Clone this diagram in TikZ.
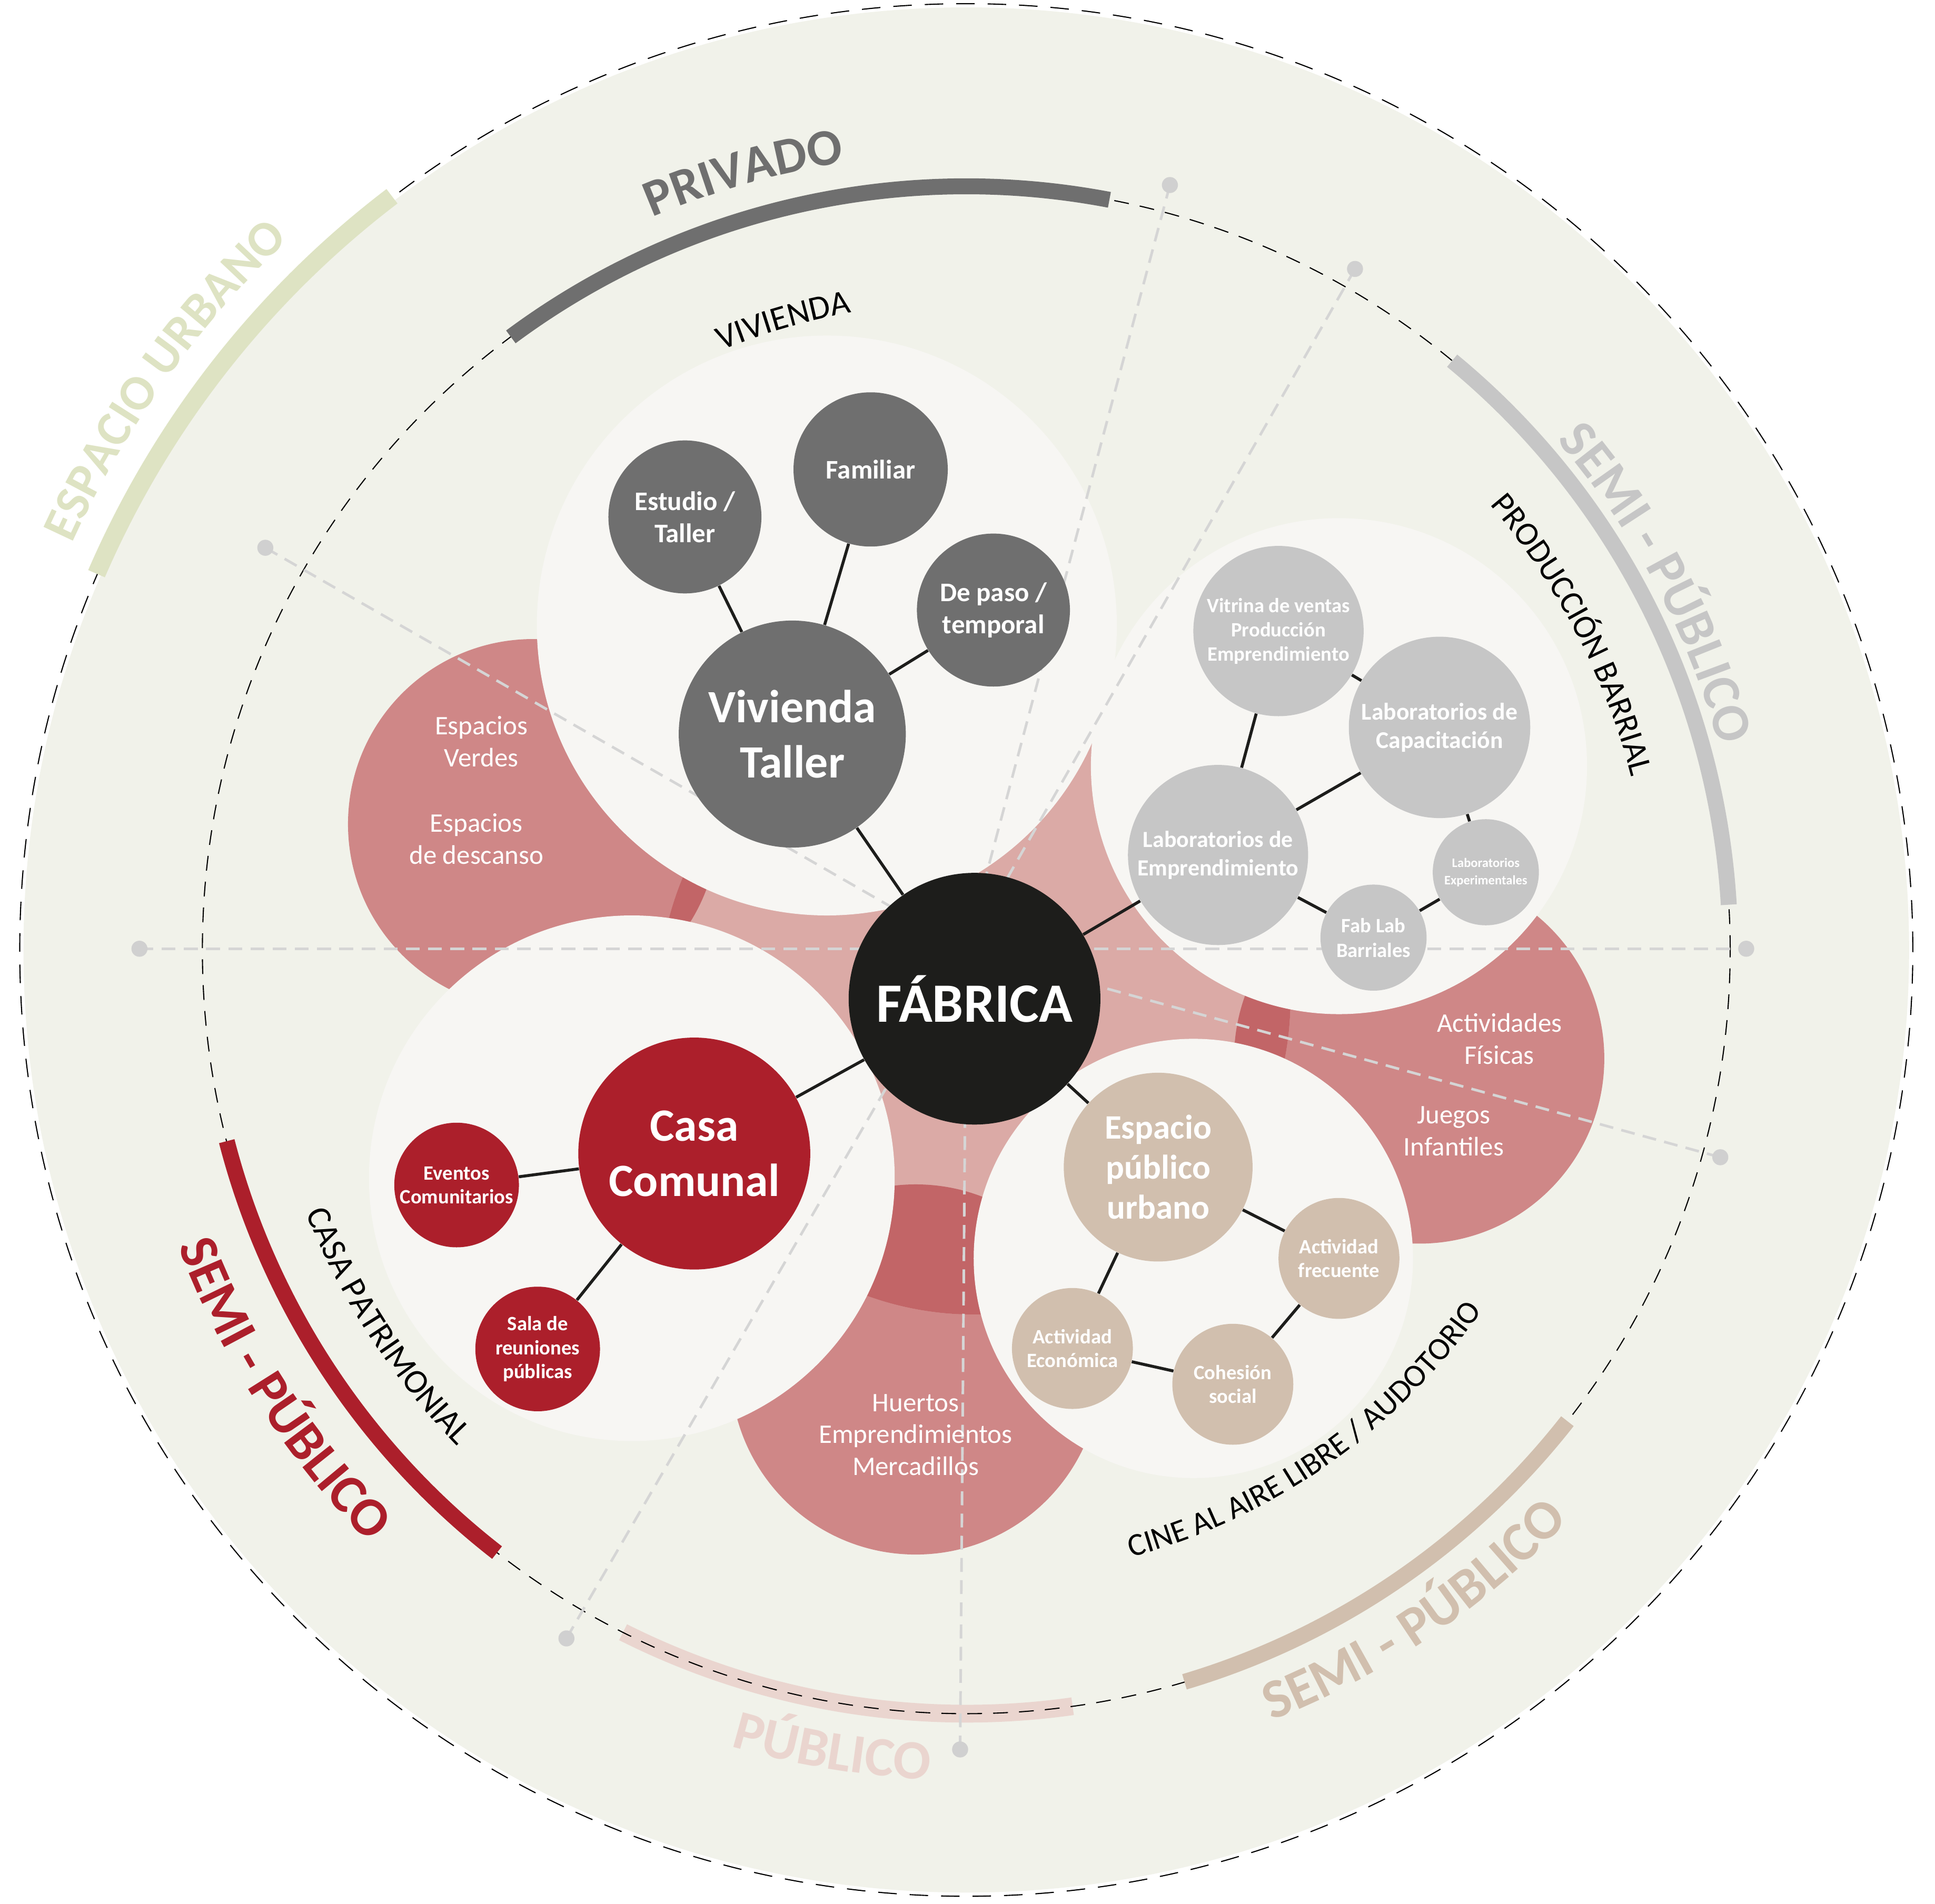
\documentclass[tikz,border=0pt]{standalone}
\usepackage{fontspec}
\setmainfont{Carlito}
\usepackage{tikz}
\usetikzlibrary{calc,decorations.text}

\definecolor{bgGreen}{HTML}{F1F2EA}
\definecolor{wCirc}{HTML}{F7F6F3}
\definecolor{cDark}{HTML}{6F6F6F}
\definecolor{cLight}{HTML}{C6C6C6}
\definecolor{cRed}{HTML}{AC1F2B}
\definecolor{cTan}{HTML}{D1BFAE}
\definecolor{cBlack}{HTML}{1D1D1B}
\definecolor{cRose}{HTML}{CF8787}
\definecolor{cRoseL}{HTML}{DBAAA6}
\definecolor{cRoseD}{HTML}{C26567}
\definecolor{cUrb}{HTML}{DEE3C3}
\definecolor{cPub}{HTML}{EAD5CF}
\definecolor{cRay}{HTML}{D5D5D5}
\definecolor{cDot}{HTML}{D0D0D0}

\tikzset{
  nd/.style={circle, inner sep=0pt, align=center, text=white},
  sz/.style={minimum size=#1*0.04688cm},
  ray/.style={cRay, line width=1.4pt, dash pattern=on 7.5pt off 4.5pt},
  link/.style={cBlack, line width=1.6pt},
  roselbl/.style={text=white, align=center, font=\fontsize{14.5}{17.3}\selectfont},
}
% radio, angulo inicial, angulo final, color, fuente, texto
\newcommand{\arclabel}[6]{%
  \path[decorate, decoration={text along path, text align=center, text color=#4,
    text={|#5|#6}}] ($(O)+(#2:#1)$) arc[start angle=#2, end angle=#3, radius=#1];}
\newcommand{\bandarc}[4]{%
  \draw[#4] ($(O)+(#2:#1)$) arc[start angle=#2, end angle=#3, radius=#1];}

\begin{document}
\begin{tikzpicture}[x=0.02344cm, y=0.02344cm]
\useasboundingbox (0,0) rectangle (1568,1543);
\coordinate (O) at (783,773);
\coordinate (F) at (789.7,733.5);

% fondo y circulos
\fill[bgGreen] (O) circle[radius=764];
\draw[dash pattern=on 10pt off 7pt, line width=0.6pt] (O) circle[radius=767];
\bandarc{619}{243.3}{278}{cPub, line width=9.6pt}
\draw[dash pattern=on 8pt off 6pt, line width=0.6pt] (O) circle[radius=619];

\bandarc{768}{156.6}{127.3}{cUrb, line width=9.8pt}
\bandarc{619}{126.6}{79.2}{cDark, line width=8.6pt}
\bandarc{619}{50.5}{3.4}{cLight, line width=8.6pt}
\bandarc{619}{194.5}{232.1}{cRed, line width=8.6pt}
\bandarc{619}{286.6}{321.9}{cTan, line width=8.6pt}

% manchas rosadas
\coordinate (roseL) at (432,875);
\coordinate (roseR) at (1150,685);
\coordinate (roseB) at (742,433);
\fill[cRose] (roseL) circle[radius=150] (roseR) circle[radius=150] (roseB) circle[radius=150];
\fill[cRoseL] (F) circle[radius=256];
\begin{scope}
  \clip (F) circle[radius=256];
  \fill[cRoseD] (roseL) circle[radius=150] (roseR) circle[radius=150] (roseB) circle[radius=150];
\end{scope}

\fill[wCirc] (670,1036) circle[radius=235];
\fill[wCirc] (1085,922) circle[radius=201];
\fill[wCirc] (512,588) circle[radius=213];
\fill[wCirc] (967,523) circle[radius=178];

% radios
\coordinate (d1) at (948,1393);
\coordinate (d2) at (1098,1325);
\coordinate (d3) at (215,1099);
\coordinate (d4) at (1394,605);
\coordinate (d5) at (459,215);
\coordinate (d6) at (778,125);
\coordinate (d7) at (113,774);
\coordinate (d8) at (1415,774);
\foreach \d in {d1,d2,d3,d4,d5,d6}
  \draw[ray] (\d) -- (O);
\draw[ray] (d7) -- (d8);
\foreach \d in {d1,d2,d3,d4,d5,d6,d7,d8}
  \fill[cDot] (\d) circle[radius=6.5];

% nodos
\node[nd, fill=cBlack, sz=102, font=\bfseries\fontsize{30}{34}\selectfont] (fab) at (F) {FÁBRICA};

\node[nd, fill=cDark, sz=92, font=\bfseries\fontsize{25}{30}\selectfont] (viv) at (642,948) {Vivienda\\Taller};
\node[nd, fill=cDark, sz=62, font=\bfseries\fontsize{14.5}{17.3}\selectfont] (est) at (555,1124) {Estudio /\\Taller};
\node[nd, fill=cDark, sz=62.5, font=\bfseries\fontsize{14.5}{17.3}\selectfont] (fam) at (705.5,1162.5) {Familiar};
\node[nd, fill=cDark, sz=62, font=\bfseries\fontsize{14.5}{17.3}\selectfont] (pas) at (805,1048.5) {De paso /\\temporal};

\node[nd, fill=cLight, sz=69, font=\bfseries\fontsize{11}{13}\selectfont] (vit) at (1036,1031.5) {Vitrina de ventas\\Producción\\Emprendimiento};
\node[nd, fill=cLight, sz=73.5, font=\bfseries\fontsize{13}{15.3}\selectfont] (cap) at (1166.5,953.4) {Laboratorios de\\Capacitación};
\node[nd, fill=cLight, sz=73, font=\bfseries\fontsize{12.5}{15.3}\selectfont] (emp) at (987,850) {Laboratorios de\\Emprendimiento};
\node[nd, fill=cLight, sz=43, font=\bfseries\fontsize{7}{9.3}\selectfont] (exp) at (1204,836) {Laboratorios\\Experimentales};
\node[nd, fill=cLight, sz=43, font=\bfseries\fontsize{11}{13.3}\selectfont] (lab) at (1113,783) {Fab Lab\\Barriales};

\node[nd, fill=cRed, sz=94, font=\bfseries\fontsize{25}{30}\selectfont] (casa) at (562.6,608) {Casa\\Comunal};
\node[nd, fill=cRed, sz=50.5, font=\bfseries\fontsize{11}{12.8}\selectfont] (evt) at (370,582.5) {Eventos\\Comunitarios};
\node[nd, fill=cRed, sz=50.5, font=\bfseries\fontsize{11}{13}\selectfont] (sala) at (435.7,449.6) {Sala de\\reuniones\\públicas};

\node[nd, fill=cTan, sz=76.5, font=\bfseries\fontsize{18.5}{21.6}\selectfont] (esp) at (938.5,597) {Espacio\\público\\urbano};
\node[nd, fill=cTan, sz=49, font=\bfseries\fontsize{11}{12.8}\selectfont] (afr) at (1085,523) {Actividad\\frecuente};
\node[nd, fill=cTan, sz=49, font=\bfseries\fontsize{11}{12.8}\selectfont] (aec) at (869,450) {Actividad\\Económica};
\node[nd, fill=cTan, sz=49, font=\bfseries\fontsize{11}{12.8}\selectfont] (coh) at (999,421) {Cohesión\\social};

% conexiones
\draw[link] (fab) -- (viv) (viv) -- (est) (viv) -- (fam) (viv) -- (pas);
\draw[link] (fab) -- (emp) (emp) -- (vit) (emp) -- (cap) (emp) -- (lab)
  (vit) -- (cap) (cap) -- (exp) (lab) -- (exp);
\draw[link] (fab) -- (casa) (casa) -- (evt) (casa) -- (sala);
\draw[link] (fab) -- (esp) (esp) -- (afr) (esp) -- (aec) (aec) -- (coh) (coh) -- (afr);

% textos en manchas
\node[roselbl] (tVer) at (390,942) {Espacios\\Verdes};
\node[roselbl] (tDes) at (386,863) {Espacios\\de descanso};
\node[roselbl] (tFis) at (1215,701) {Actividades\\Físicas};
\node[roselbl] (tJue) at (1178,626) {Juegos\\Infantiles};
\node[roselbl] (tHue) at (742,380) {Huertos\\Emprendimientos\\Mercadillos};

% rotulos curvos
\arclabel{796}{184.6}{104.6}{cUrb}{\bfseries\fontsize{27}{27}\selectfont}{ESPACIO URBANO}
\arclabel{646}{146}{66}{cDark}{\bfseries\fontsize{28}{28}\selectfont}{PRIVADO}
\arclabel{632}{68}{-12}{cLight}{\bfseries\fontsize{29}{29}\selectfont}{SEMI - PÚBLICO}
\arclabel{557}{67.5}{-12.5}{black}{\fontsize{18}{18}\selectfont}{PRODUCCIÓN BARRIAL}
\arclabel{525}{146.2}{66.2}{black}{\fontsize{18.5}{18.5}\selectfont}{VIVIENDA}
\arclabel{682}{172.7}{252.7}{cRed}{\bfseries\fontsize{29.5}{29.5}\selectfont}{SEMI - PÚBLICO}
\arclabel{576}{173}{253}{black}{\fontsize{18.5}{18.5}\selectfont}{CASA PATRIMONIAL}
\arclabel{510}{265.1}{345.1}{black}{\fontsize{17.3}{17.3}\selectfont}{CINE AL AIRE LIBRE / AUDOTORIO}
\arclabel{672}{264.1}{344.1}{cTan}{\bfseries\fontsize{30}{30}\selectfont}{SEMI - PÚBLICO}
\arclabel{673}{220.5}{300.5}{cPub}{\bfseries\fontsize{30}{30}\selectfont}{PÚBLICO}
\end{tikzpicture}
\end{document}
